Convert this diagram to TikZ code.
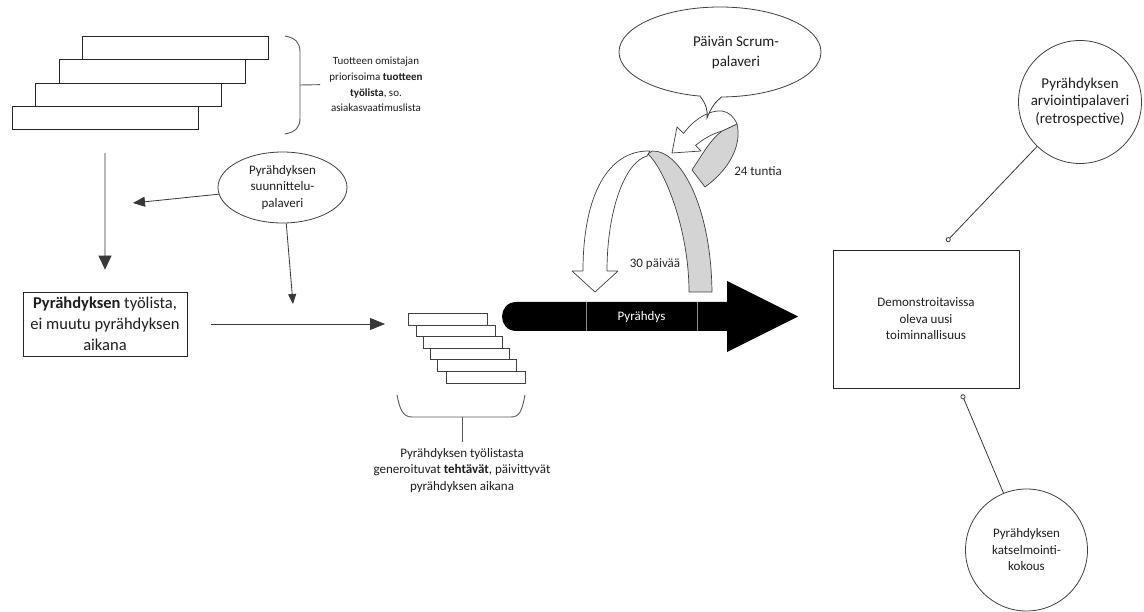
\documentclass[tikz,border=0pt]{standalone}
\usepackage{fontspec}
\setmainfont{Carlito}
\usetikzlibrary{arrows.meta,shapes.geometric}

\begin{document}
\begin{tikzpicture}[x=1pt,y=-1pt,
  every node/.style={inner sep=0pt},
  ln/.style={draw=black!78,line width=0.8pt},
  bracecol/.style={draw=black!65,line width=0.9pt},
  bar/.style={draw=black!85,fill=white,line width=0.8pt,minimum width=186pt,minimum height=23.3pt,anchor=north west},
  task/.style={draw=black!75,fill=white,line width=0.8pt,minimum width=79pt,minimum height=11.6pt,anchor=north west},
  ribwhite/.style={draw=black!75,fill=white,line width=0.7pt,line join=round},
  ribgray/.style={draw=black!75,fill=black!17,line width=0.7pt,line join=round},
  txt/.style={align=center,text=black!88},
  fa/.style={font=\fontsize{11}{15.6}\selectfont},
  fb/.style={font=\fontsize{13}{16.5}\selectfont},
  fc/.style={font=\fontsize{15}{20}\selectfont},
  fd/.style={font=\fontsize{16.5}{21}\selectfont},
  fe/.style={font=\fontsize{15}{17.5}\selectfont},
  pin/.style={ln,-{Circle[open,length=5pt,width=5pt]}}
]
\useasboundingbox (0,0) rectangle (1144,612);
\fill[white] (0,0) rectangle (1144,612);

% product backlog: stacked bars
\node[bar] (pb1) at (82,36) {};
\node[bar] (pb2) at (58.5,59.3) {};
\node[bar] (pb3) at (35,82.6) {};
\node[bar] (pb4) at (11.5,105.9) {};

% brace and its caption
\draw[bracecol] (285,36) .. controls (296,38) and (300,43) .. (300,52) -- (300,118)
      .. controls (300,127) and (296,132) .. (285,134);
\node[txt,fa] (pbtext) at (376,84.5) {Tuotteen omistajan\\priorisoima \textbf{tuotteen}\\\textbf{työlista}, so.\\asiakasvaatimuslista};
\draw[bracecol] (300,85) -- (pbtext.west) [shorten >=9pt];

% sprint planning meeting
\node[ellipse,draw=black!75,line width=0.8pt,minimum width=129pt,minimum height=71pt,txt,fb] (plan) at (282.5,187.5) {Pyrähdyksen\\suunnittelu-\\palaveri};

% sprint backlog box
\node[draw=black!85,line width=0.8pt,minimum width=164pt,minimum height=64pt,txt,fd] (sbl) at (105,324) {\textbf{Pyrähdyksen} työlista,\\ei muutu pyrähdyksen\\aikana};

\coordinate (planL) at (133,203);
\coordinate (planD) at (293,304);
\coordinate (tasksin) at (385,324);

\draw[ln,-{Triangle[length=14pt,width=13pt]},shorten <=23pt,shorten >=22pt] (pb4.south) -- (sbl.north);
\draw[ln,-{Triangle[length=12pt,width=10pt]}] (plan.186) -- (planL);
\draw[ln,-{Triangle[length=10pt,width=8pt]}] (plan.276) -- (planD);
\draw[ln,-{Triangle[length=15pt,width=12pt]},shorten <=24pt] (sbl.east) -- (tasksin);

% sprint tasks
\node[task] (t1) at (408,313) {};
\node[task] (t2) at (416,324.6) {};
\node[task] (t3) at (423,336.2) {};
\node[task] (t4) at (429.5,347.8) {};
\node[task] (t5) at (437,359.4) {};
\node[task] (t6) at (446,371) {};

\draw[bracecol] (397,395) .. controls (400,410) and (403,417) .. (412,417) -- (511,417)
      .. controls (520,417) and (522,410) .. (525,395);
\node[txt,fb] (tasktext) at (462,470.5) {Pyrähdyksen työlistasta\\generoituvat \textbf{tehtävät}, päivittyvät\\pyrähdyksen aikana};
\draw[bracecol] (462,417) -- (tasktext.north) [shorten >=6pt];

% sprint arrow
\fill[black] (727,302) -- (516.5,302) .. controls (497.2,302) and (497.2,331) .. (516.5,331)
      -- (727,331) -- (727,352) -- (798,316.5) -- (727,281) -- cycle;
\draw[black!45,line width=0.8pt] (586,302) -- (586,331) (697,302) -- (697,331);
\node[fb,text=white] (sprint) at (641.5,317) {Pyrähdys};

% 30-day loop
\path[ribgray] (648,154) .. controls (665,170) and (689,230) .. (689,292) -- (712,292)
      .. controls (711,205) and (680,150) .. (652,151) -- cycle;
\path[ribwhite] (595,292) -- (572,271) -- (583,271) .. controls (583,195) and (608,150) .. (650,151)
      -- (647,156) .. controls (625,162) and (607,210) .. (607,271) -- (618,271) -- cycle;
\node[fb,text=black!85] (days) at (655,264) {30 päivää};

% 24-hour loop
\path[ribgray] (722,131) -- (737,124) .. controls (741,140) and (735,165) .. (705,187)
      -- (692,170) .. controls (702,155) and (710,140) .. (722,131) -- cycle;
\path[ribwhite] (672,153) -- (677,127) -- (683.5,133.5) .. controls (695,118) and (710,110) .. (722,111)
      .. controls (729,112) and (734,117) .. (737,124) -- (722,131)
      .. controls (712,134) and (703,139) .. (695.5,145.5) -- (701,151) -- cycle;
\node[fb,text=black!85] (hours) at (758,171) {24 tuntia};

% daily scrum callout
\node[ellipse,draw=black!75,fill=white,line width=0.8pt,minimum width=202pt,minimum height=90pt] (scrum) at (720,52) {};
\node[txt,fc] (scrumtext) at (736,53) {Päivän Scrum-\\palaveri};
\fill[white] (701,94) rectangle (721,100);
\fill[white] (700.5,97.6) .. controls (706,104) and (708,111) .. (707,118)
      .. controls (711,108) and (715,102) .. (721.5,97.8) -- cycle;
\draw[ln] (700.5,96.8) .. controls (706,104) and (708,111) .. (707,118)
      .. controls (711,108) and (715,102) .. (721.5,97.2);

% increment and meetings
\node[draw=black!85,line width=0.8pt,minimum width=186pt,minimum height=138pt,txt,fb] (demo) at (926,319) {Demonstroitavissa\\oleva uusi\\toiminnallisuus};
\node[circle,draw=black!75,line width=0.8pt,minimum size=123pt,txt,fe] (retro) at (1080,102) {Pyrähdyksen\\arviointipalaveri\\(retrospective)};
\node[circle,draw=black!75,line width=0.8pt,minimum size=122pt,txt,fb] (review) at (1026.5,550) {Pyrähdyksen\\katselmointi-\\kokous};

\coordinate (rpin) at (946.5,241.5);
\coordinate (dpin) at (962,394.5);
\draw[pin] (retro.226) -- (rpin);
\draw[pin] (review.112) -- (dpin);
\end{tikzpicture}
\end{document}
